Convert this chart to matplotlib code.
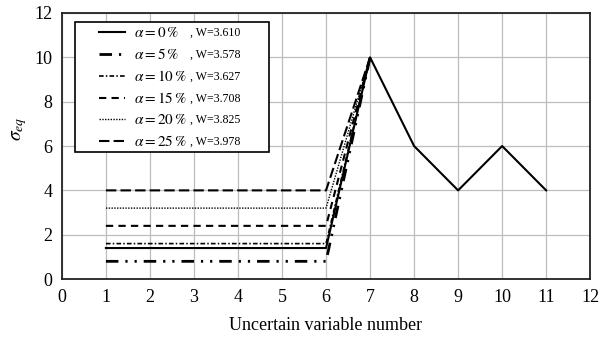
import matplotlib
matplotlib.use('Agg')
import matplotlib.pyplot as plt
from matplotlib.patches import Rectangle

plt.rcParams['font.family'] = ['Liberation Serif', 'DejaVu Serif']
plt.rcParams['mathtext.fontset'] = 'stix'

# Dados
x_full = [1, 2, 3, 4, 5, 6, 7, 8, 9, 10, 11]
x_short = [1, 2, 3, 4, 5, 6, 7]

sig_0 = [1.4, 1.4, 1.4, 1.4, 1.4, 1.4, 10, 6, 4, 6, 4]
sig_5 = [0.8, 0.8, 0.8, 0.8, 0.8, 0.8, 10]
sig_10 = [1.6, 1.6, 1.6, 1.6, 1.6, 1.6, 10]
sig_15 = [2.4, 2.4, 2.4, 2.4, 2.4, 2.4, 10]
sig_20 = [3.2, 3.2, 3.2, 3.2, 3.2, 3.2, 10]
sig_25 = [4.0, 4.0, 4.0, 4.0, 4.0, 4.0, 10]

alphas = ['0', '5', '10', '15', '20', '25']
w_vals = ['3.610', '3.578', '3.627', '3.708', '3.825', '3.978']

labels = [r'$\alpha = ' + a + r'\,\%$' for a in alphas]

fig = plt.figure(figsize=(6.01, 3.42), dpi=100)
ax = fig.add_axes([0.103, 0.184, 0.879, 0.778])

ax.plot(x_full, sig_0, color='black', lw=1.5, ls='-', label=labels[0])
ax.plot(x_short, sig_5, color='black', lw=2.0, dashes=(4.5, 2.5, 0.8, 2.5, 0.8, 2.5), label=labels[1])
ax.plot(x_short, sig_10, color='black', lw=1.2, dashes=(2.8, 1.3, 0.9, 1.3), label=labels[2])
ax.plot(x_short, sig_15, color='black', lw=1.5, dashes=(3.5, 2.5), label=labels[3])
ax.plot(x_short, sig_20, color='black', lw=1.0, dashes=(1, 1), label=labels[4])
ax.plot(x_short, sig_25, color='black', lw=1.5, dashes=(5, 2), label=labels[5])

ax.set_xlim(0, 12)
ax.set_ylim(0, 12)
ax.set_xticks(range(0, 13))
ax.set_yticks(range(0, 13, 2))
ax.tick_params(length=0, labelsize=13, pad=7)
ax.grid(True, color='#bdbdbd', lw=0.9)
ax.set_axisbelow(True)
for s in ax.spines.values():
    s.set_linewidth(1.3)
    s.set_color('#222222')

ax.set_xlabel('Uncertain variable number', fontsize=13, labelpad=8)
ax.set_ylabel(r'$\boldsymbol{\sigma_{eq}}$', fontsize=14)
ax.yaxis.set_label_coords(-0.063, 0.564)

# caixa da legenda
ax.add_patch(Rectangle((0.0246, 0.477), 0.367, 0.489, transform=ax.transAxes,
                       facecolor='white', edgecolor='black', lw=1.2, zorder=4))

leg = ax.legend(loc='upper left', bbox_to_anchor=(0.070, 0.951), fontsize=11,
                frameon=False, handlelength=1.7, handletextpad=0.6,
                borderpad=0, borderaxespad=0, labelspacing=0.46)
leg.set_zorder(5)

# valores de W alinhados com as entradas da legenda
fig.canvas.draw()
H = fig.bbox.height
for t, w in zip(leg.get_texts(), w_vals):
    bb = t.get_window_extent()
    yc = (bb.y0 + bb.y1) / 2 / H
    fig.text(190 / 601, yc, ', W=' + w, fontsize=8.6, va='center', ha='left', zorder=6)

plt.savefig('out.png', dpi=100)
